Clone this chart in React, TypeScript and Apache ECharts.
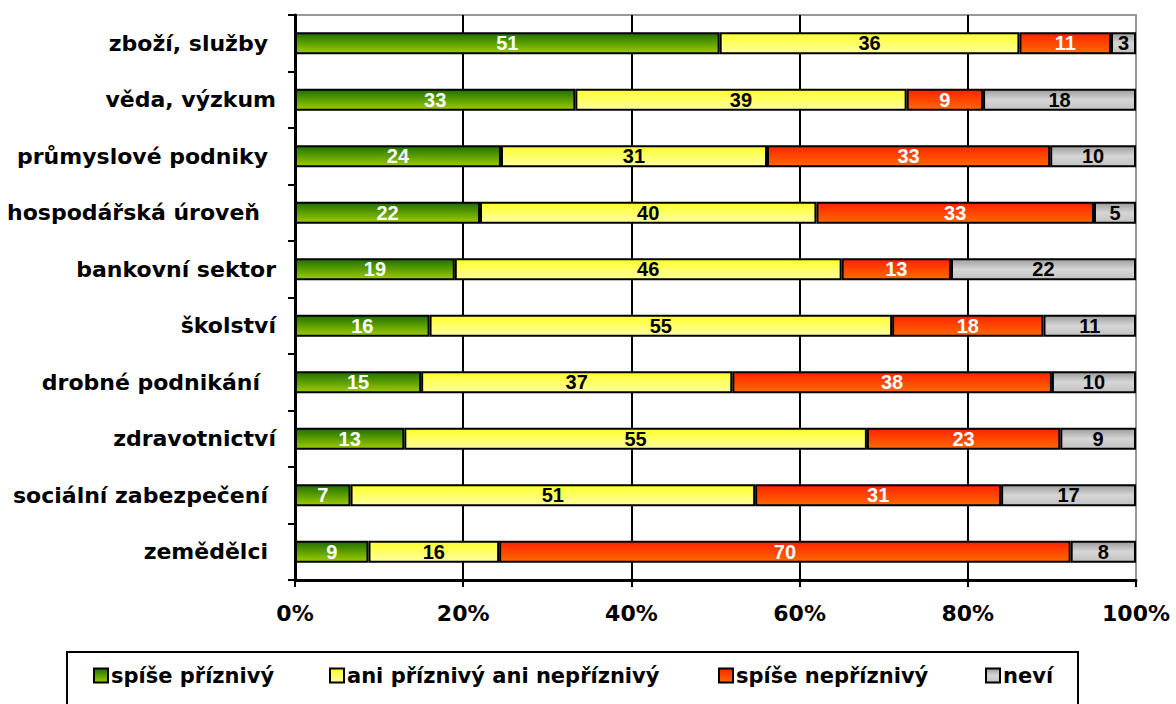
import React, { useEffect, useRef } from "react";
import * as echarts from "echarts";

// Categories listed from top to bottom (original labels keep their trailing spaces)
const categories = [
  "zboží, služby ",
  "věda, výzkum",
  "průmyslové podniky ",
  "hospodářská úroveň  ",
  "bankovní sektor",
  "školství",
  "drobné podnikání  ",
  "zdravotnictví",
  "sociální zabezpečení ",
  "zemědělci ",
];

const seriesNames = [
  "spíše příznivý",
  "ani příznivý ani nepříznivý",
  "spíše nepříznivý",
  "neví",
];

const favourable = [51, 33, 24, 22, 19, 16, 15, 13, 7, 9];
const neutral = [36, 39, 31, 40, 46, 55, 37, 55, 51, 16];
const unfavourable = [11, 9, 33, 33, 13, 18, 38, 23, 31, 70];
const dontKnow = [3, 18, 10, 5, 22, 11, 10, 9, 17, 8];

const xTicks = [0, 20, 40, 60, 80, 100];

const FONT = "'DejaVu Sans', Verdana, sans-serif";
const NUM_FONT = "'Liberation Sans', Arial, sans-serif";

function grad(stops: [number, string][]) {
  return new echarts.graphic.LinearGradient(
    0,
    0,
    0,
    1,
    stops.map(([offset, color]) => ({ offset, color }))
  );
}

export default function App() {
  const ref = useRef<HTMLDivElement>(null);

  useEffect(() => {
    document.body.style.margin = "0";
    if (!ref.current) return;
    const chart = echarts.init(ref.current, undefined, { renderer: "svg" });

    const raw = [favourable, neutral, unfavourable, dontKnow];
    const totals = categories.map((_, i) =>
      raw.reduce((s, arr) => s + arr[i], 0)
    );

    const fills = [
      grad([
        [0, "#1f7000"],
        [1, "#9ccc00"],
      ]),
      grad([
        [0, "#ffff2a"],
        [1, "#ffffa0"],
      ]),
      grad([
        [0, "#ff2200"],
        [1, "#ff6a00"],
      ]),
      grad([
        [0, "#9c9c9c"],
        [0.5, "#d6d6d6"],
        [1, "#c2c2c2"],
      ]),
    ];
    const labelColors = ["#ffffff", "#000000", "#ffffff", "#000000"];
    const legendLefts = [93, 329, 718, 985];

    const series = raw.map((arr, si) => ({
      name: seriesNames[si],
      type: "bar",
      stack: "total",
      barWidth: 22,
      data: arr.map((v, i) => ({ value: (v / totals[i]) * 100, raw: v })),
      itemStyle: {
        color: fills[si],
        borderColor: "#000",
        borderWidth: 2,
      },
      label: {
        show: true,
        position: "inside",
        color: labelColors[si],
        fontFamily: NUM_FONT,
        fontWeight: "bold",
        fontSize: 20,
        formatter: (p: any) => String(p.data.raw),
      },
    }));

    const option: any = {
      animation: false,
      backgroundColor: "#ffffff",
      grid: {
        left: 295,
        right: 40,
        top: 15,
        bottom: 124,
        show: true,
        borderColor: "#999999",
        borderWidth: 2,
        backgroundColor: "transparent",
      },
      xAxis: {
        type: "value",
        min: xTicks[0],
        max: xTicks[xTicks.length - 1],
        interval: 20,
        axisLine: { show: true, lineStyle: { color: "#000", width: 3 } },
        axisTick: {
          show: true,
          length: 7,
          lineStyle: { color: "#000", width: 2 },
        },
        splitLine: {
          show: true,
          showMinLine: false,
          showMaxLine: false,
          lineStyle: { color: "#000", width: 2 },
        },
        axisLabel: {
          formatter: "{value}%",
          color: "#000",
          fontFamily: FONT,
          fontWeight: "bold",
          fontSize: 22,
          margin: 22,
        },
      },
      yAxis: {
        type: "category",
        inverse: true,
        data: categories,
        axisLine: { show: true, lineStyle: { color: "#000", width: 3 } },
        axisTick: {
          show: true,
          length: 7,
          lineStyle: { color: "#000", width: 2 },
        },
        axisLabel: {
          color: "#000",
          fontFamily: FONT,
          fontWeight: "bold",
          fontSize: 22,
          margin: 19,
          formatter: (v: string) => {
            const trimmed = v.replace(/\s+$/, "");
            const pad = v.length - trimmed.length;
            return `{p${pad}|${trimmed}}`;
          },
          rich: {
            p0: { padding: [0, 0, 0, 0] },
            p1: { padding: [0, 8, 0, 0] },
            p2: { padding: [0, 16, 0, 0] },
          },
        },
      },
      legend: seriesNames.map((name, i) => ({
        data: [name],
        left: legendLefts[i],
        top: 665,
        padding: 0,
        itemWidth: 14,
        itemHeight: 14,
        icon: "rect",
        itemStyle: { borderColor: "#000", borderWidth: 2 },
        textStyle: {
          color: "#000",
          fontFamily: FONT,
          fontWeight: "bold",
          fontSize: 21,
          padding: [0, 0, 0, -2],
        },
        selectedMode: false,
      })),
      graphic: [
        {
          type: "rect",
          left: 66,
          top: 651,
          shape: { width: 1011, height: 100 },
          style: { fill: "#fff", stroke: "#000", lineWidth: 2 },
          z: -1,
        },
      ],
      series,
    };

    chart.setOption(option);
    return () => chart.dispose();
  }, []);

  return (
    <div
      ref={ref}
      style={{ position: "absolute", left: 0, top: 0, width: 1176, height: 704 }}
    />
  );
}
